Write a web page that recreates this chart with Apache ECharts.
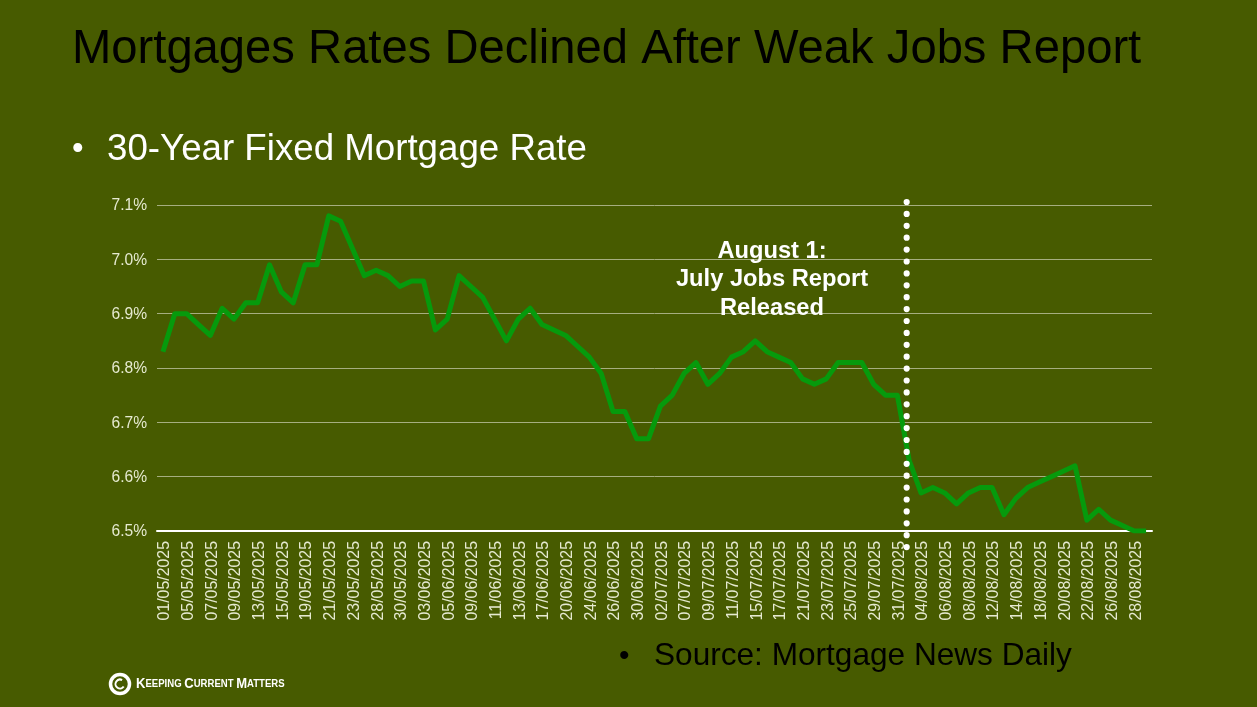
<!DOCTYPE html>
<html>
<head>
<meta charset="utf-8">
<script src="https://cdn.jsdelivr.net/npm/echarts@6/dist/echarts.min.js"></script>
<style>
  html, body { margin: 0; padding: 0; background: #475b00; }
  #main { width: 1257px; height: 707px; }
</style>
</head>
<body>
<div id="main"></div>
<script>
// business days, may - august 2025
let may = ["01","02","05","06","07","08","09","12","13","14","15","16","19","20","21","22","23","27","28","29","30"];
let june = ["02","03","04","05","06","09","10","11","12","13","16","17","18","20","23","24","25","26","27","30"];
let july = ["01","02","03","07","08","09","10","11","14","15","16","17","18","21","22","23","24","25","28","29","30","31"];
let august = ["01","04","05","06","07","08","11","12","13","14","15","18","19","20","21","22","25","26","27","28","29"];

let dates = [
  ...may.map((x) => x + "/05/2025"),
  ...june.map((x) => x + "/06/2025"),
  ...july.map((x) => x + "/07/2025"),
  ...august.map((x) => x + "/08/2025"),
];

let rates = [
  6.83,6.90,6.90,6.88,6.86,6.91,6.89,6.92,6.92,6.99,6.94,6.92,6.99,6.99,7.08,7.07,7.02,6.97,6.98,6.97,6.95,
  6.96,6.96,6.87,6.89,6.97,6.95,6.93,6.89,6.85,6.89,6.91,6.88,6.87,6.86,6.84,6.82,6.79,6.72,6.72,6.67,
  6.67,6.73,6.75,6.79,6.81,6.77,6.79,6.82,6.83,6.85,6.83,6.82,6.81,6.78,6.77,6.78,6.81,6.81,6.81,6.77,6.75,6.75,
  6.63,6.57,6.58,6.57,6.55,6.57,6.58,6.58,6.53,6.56,6.58,6.59,6.60,6.61,6.62,6.52,6.54,6.52,6.51,6.50,6.50
];

let yTicks = { min: 6.5, max: 7.1, interval: 0.1 };

// dotted marker at the 01/08 point, runs a bit past the plot
let jobsMarker = ["01/08/2025", 7.1055, 6.46];

let titleText = "Mortgages Rates Declined After Weak Jobs Report";
let subTitle = "30-Year Fixed Mortgage Rate";
let sourceText = "Source: Mortgage News Daily";
let noteText = "August 1:\nJuly Jobs Report\nReleased";

const font = '"Liberation Sans", Arial, sans-serif';
const chart = echarts.init(document.getElementById("main"));

function plain(text, left, top, color, size) {
  return { text: text, left: left, top: top, padding: 0, textStyle: { color: color, fontFamily: font, fontSize: size, fontWeight: "normal" } };
}

chart.setOption({
  animation: false,
  backgroundColor: "#475b00",
  title: [
    plain(titleText, 72, 26, "#000", 47.2),
    plain("•", 72, 133, "#fff", 33),
    plain(subTitle, 107, 131, "#fff", 36.7),
    plain("•", 619, 642, "#000", 30),
    plain(sourceText, 654, 640, "#000", 31.6),
    { text: noteText, left: 772, top: 237, padding: 0, textAlign: "center", textStyle: { color: "#fff", fontFamily: font, fontSize: 23.7, fontWeight: "bold", lineHeight: 28.5, align: "center" } },
  ],
  grid: { left: 157, right: 105, top: 205, bottom: 176 },
  xAxis: {
    type: "category",
    data: dates,
    boundaryGap: true,
    axisTick: { show: false },
    axisLine: { lineStyle: { color: "#fff", width: 2 } },
    axisLabel: { rotate: 90, interval: 1, margin: 10, verticalAlign: "top", lineHeight: 4, color: "#e6ead0", fontFamily: font, fontSize: 15.9 },
  },
  yAxis: {
    type: "value",
    min: yTicks.min,
    max: yTicks.max,
    interval: yTicks.interval,
    axisLine: { show: false },
    axisTick: { show: false },
    axisLabel: { margin: 10, verticalAlign: "top", lineHeight: 2, color: "#e6ead0", fontFamily: font, fontSize: 15.6, formatter: (v) => v.toFixed(1) + "%" },
    splitLine: { lineStyle: { color: "#a6ae80", width: 1 } },
  },
  series: [
    {
      type: "line",
      data: rates,
      symbol: "none",
      z: 3,
      lineStyle: { color: "#069a0c", width: 5, join: "round" },
    },
    {
      type: "custom",
      z: 5,
      silent: true,
      clip: false,
      data: [jobsMarker],
      encode: { x: 0, y: 1 },
      renderItem: (params, api) => {
        let a = api.coord([api.value(0), api.value(1)]);
        let b = api.coord([api.value(0), api.value(2)]);
        // hand placed in the slide, sits a little left of the point
        let x = a[0] - 2.5;
        return {
          type: "line",
          shape: { x1: x, y1: a[1], x2: x, y2: b[1] },
          style: { stroke: "#fff", lineWidth: 6.2, lineCap: "round", lineDash: [0.01, 11.89] },
        };
      },
    },
  ],
  graphic: [
    // logo ring
    { type: "circle", shape: { cx: 120, cy: 684, r: 9.5 }, style: { fill: "none", stroke: "#fff", lineWidth: 3.5 } },
    { type: "arc", shape: { cx: 120, cy: 684, r: 4.5, startAngle: 0.6, endAngle: 5.2 }, style: { fill: "none", stroke: "#fff", lineWidth: 2 } },
    {
      type: "text",
      x: 136,
      y: 676,
      scaleX: 0.87,
      style: {
        rich: {
          b: { fontFamily: font, fontSize: 15, fill: "#fff", fontWeight: "bold" },
          s: { fontFamily: font, fontSize: 11, fill: "#fff", fontWeight: "bold" },
        },
        text: "{b|K}{s|EEPING }{b|C}{s|URRENT }{b|M}{s|ATTERS}",
      },
    },
  ],
});
</script>
</body>
</html>
